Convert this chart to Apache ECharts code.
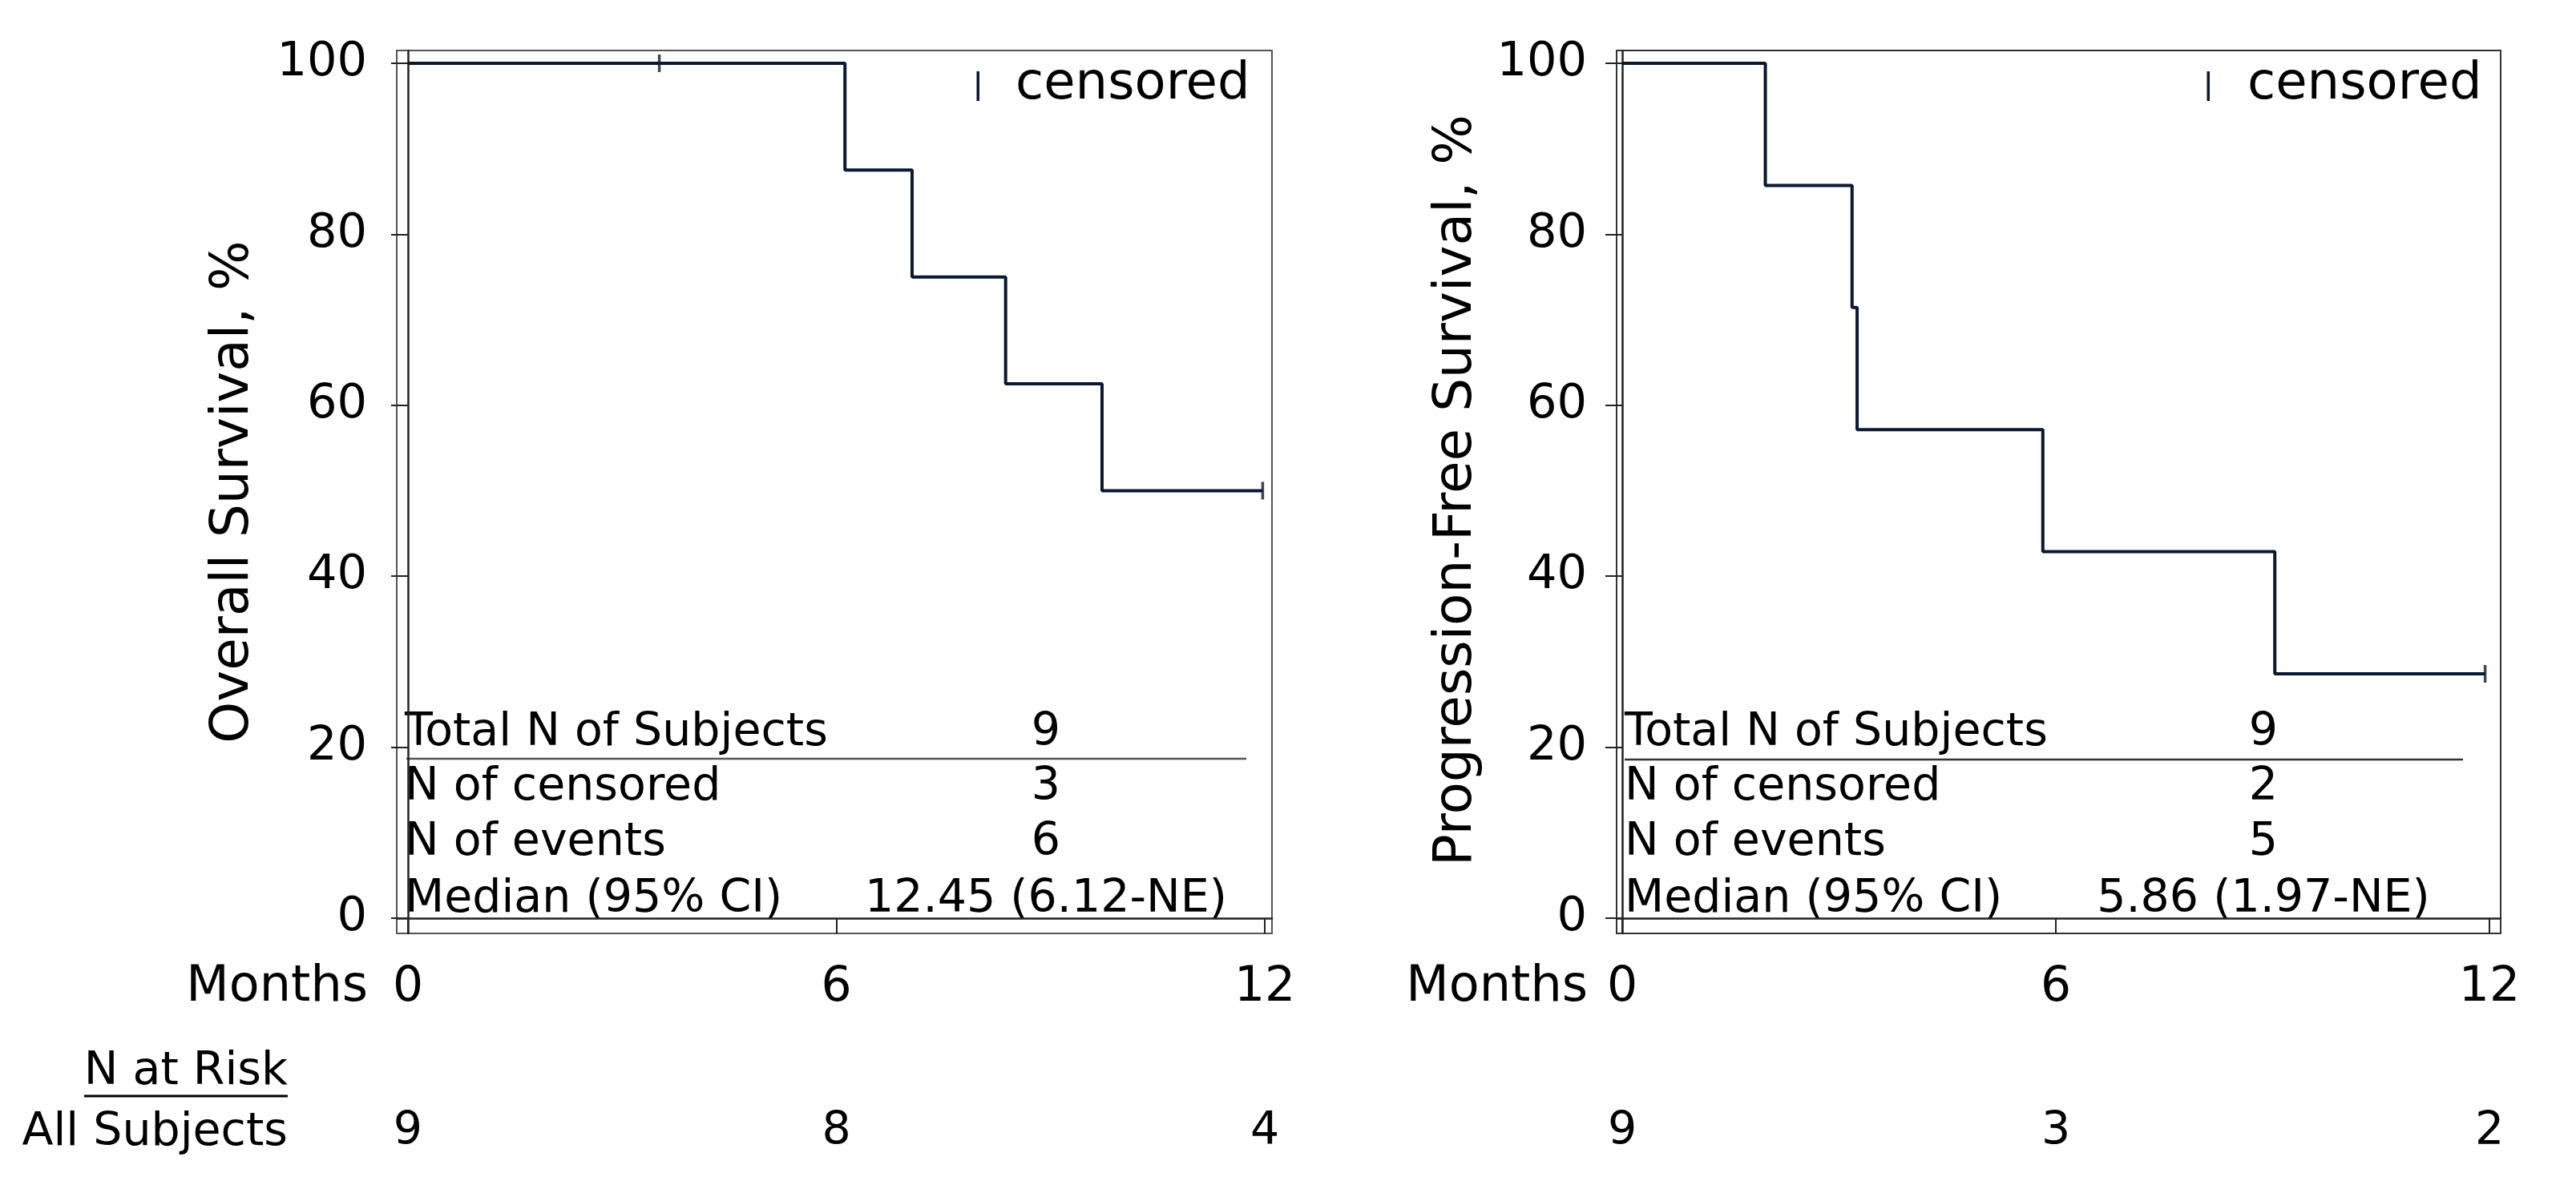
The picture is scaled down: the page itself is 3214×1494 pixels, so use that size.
<!DOCTYPE html>
<html>
<head>
<meta charset="utf-8">
<title>Kaplan-Meier curves</title>
<script src="https://cdn.jsdelivr.net/npm/echarts@6.0.0/dist/echarts.min.js"></script>
<style>
  html, body { margin: 0; padding: 0; background: #fff; }
  #chart { width: 3214px; height: 1494px; }
</style>
</head>
<body>
<div id="chart"></div>
<script>
// tick values
const xTicks = [0, 6, 12];
const yTicks = [0, 20, 40, 60, 80, 100];

// overall survival: step points [month, %] and censor marks
const osCurve = [[0, 100], [6.12, 87.5], [7.06, 75], [8.37, 62.5], [9.72, 50], [11.97, 50]];
const osCensor = [[3.52, 100], [11.97, 50]];

// progression-free survival
const pfsCurve = [[0, 100], [1.98, 85.71], [3.18, 71.43], [3.25, 57.14], [5.82, 42.86], [9.03, 28.57], [11.94, 28.57]];
const pfsCensor = [[11.94, 28.57]];

// number at risk
const riskTimes = [0, 6, 12];
const osRisk = [9, 8, 4];
const pfsRisk = [9, 3, 2];

// summary table
const tableLabels = ['Total N of Subjects', 'N of censored', 'N of events', 'Median (95% CI)'];
const osStats = ['9', '3', '6', '12.45 (6.12-NE)'];
const pfsStats = ['9', '2', '5', '5.86 (1.97-NE)'];

const FONT = 'DejaVu Sans';
const NAVY = '#0a1830';

const chart = echarts.init(document.getElementById('chart'));

function xAxisFor(grid, min, max) {
    return {
        type: 'value', gridIndex: grid, min: min, max: max,
        axisLine: { show: true, lineStyle: { color: '#222', width: 2.5 } },
        axisTick: { show: true, length: 20, customValues: xTicks, lineStyle: { color: '#222', width: 2 } },
        axisLabel: { customValues: xTicks, margin: 38, fontSize: 60, lineHeight: 60, fontFamily: FONT, color: '#000' },
        splitLine: { show: false }
    };
}

function riskAxisFor(grid, min, max, risk) {
    return {
        type: 'value', gridIndex: grid, min: min, max: max, position: 'bottom', offset: 212,
        axisLine: { show: false },
        axisTick: { show: false },
        axisLabel: {
            customValues: riskTimes, margin: 8, fontSize: 57, lineHeight: 57, fontFamily: FONT, color: '#000',
            formatter: function (v) { return String(risk[riskTimes.indexOf(v)]); }
        },
        splitLine: { show: false }
    };
}

function yAxisFor(grid) {
    return {
        type: 'value', gridIndex: grid, min: -1.8, max: 101.5,
        axisLine: { show: true, lineStyle: { color: '#222', width: 2.5 } },
        axisTick: { show: true, length: 21, customValues: yTicks, lineStyle: { color: '#222', width: 2 } },
        axisLabel: { customValues: yTicks, margin: 37, fontSize: 59, fontFamily: FONT, color: '#000' },
        splitLine: { show: false }
    };
}

function stepSeries(idx, data) {
    return {
        type: 'line', xAxisIndex: idx, yAxisIndex: idx, data: data, step: 'end',
        showSymbol: false, silent: true, animation: false,
        lineStyle: { color: NAVY, width: 4 }
    };
}

function censorSeries(idx, data) {
    return {
        name: 'censored', type: 'scatter', xAxisIndex: idx, yAxisIndex: idx, data: data,
        symbol: 'rect', symbolSize: [3.5, 22], itemStyle: { color: NAVY }, silent: true, animation: false
    };
}

// text placed in the panels
function txt(x, y, s, size, align, extra) {
    return Object.assign({
        type: 'text', x: x, y: y, silent: true,
        style: { text: s, fontSize: size, fontFamily: FONT, fill: '#000', align: align || 'left', verticalAlign: 'middle' }
    }, extra || {});
}
function hline(x1, x2, y, w, color) {
    return { type: 'line', silent: true, shape: { x1: x1, y1: y, x2: x2, y2: y }, style: { stroke: color || '#444', lineWidth: w || 2 } };
}

const rowY = [915, 983, 1052, 1123];
const graphics = [];

// panel 1
graphics.push(txt(292, 614, 'Overall Survival, %', 66, 'center', { rotation: Math.PI / 2 }));
graphics.push(txt(459, 1233, 'Months', 62, 'right'));
graphics.push({ type: 'rect', silent: true, shape: { x: 1218.5, y: 89, width: 3.5, height: 37 }, style: { fill: NAVY } });
graphics.push(txt(1267, 106, 'censored', 64, 'left'));
tableLabels.forEach(function (s, i) {
    graphics.push(txt(505, rowY[i], s, 57, 'left'));
    graphics.push(txt(1305, rowY[i], osStats[i], 57, 'center'));
});
graphics.push(hline(507, 1555, 947, 2.5, '#555'));

// panel 2
graphics.push(txt(1818, 612, 'Progression-Free Survival, %', 66, 'center', { rotation: Math.PI / 2 }));
graphics.push(txt(1981, 1233, 'Months', 62, 'right'));
graphics.push({ type: 'rect', silent: true, shape: { x: 2753.5, y: 89, width: 3.5, height: 37 }, style: { fill: NAVY } });
graphics.push(txt(2804, 106, 'censored', 64, 'left'));
tableLabels.forEach(function (s, i) {
    graphics.push(txt(2027, rowY[i], s, 57, 'left'));
    graphics.push(txt(2824, rowY[i], pfsStats[i], 57, 'center'));
});
graphics.push(hline(2027, 3073, 948, 2.5, '#333'));

// number at risk labels
graphics.push(txt(359, 1338, 'N at Risk', 57, 'right'));
graphics.push(hline(105, 359, 1368, 3, '#000'));
graphics.push(txt(359, 1414, 'All Subjects', 57, 'right'));

const option = {
    backgroundColor: '#fff',
    animation: false,
    grid: [
        { left: 495, top: 63, width: 1092, height: 1102, show: true, borderColor: '#555', borderWidth: 2, containLabel: false },
        { left: 2017, top: 63, width: 1103, height: 1102, show: true, borderColor: '#333', borderWidth: 2, containLabel: false }
    ],
    xAxis: [
        xAxisFor(0, -0.157, 12.1),
        xAxisFor(1, -0.078, 12.155),
        riskAxisFor(0, -0.157, 12.1, osRisk),
        riskAxisFor(1, -0.078, 12.155, pfsRisk)
    ],
    yAxis: [yAxisFor(0), yAxisFor(1)],
    series: [
        stepSeries(0, osCurve),
        censorSeries(0, osCensor),
        stepSeries(1, pfsCurve),
        censorSeries(1, pfsCensor)
    ],
    graphic: graphics
};

chart.setOption(option);
</script>
</body>
</html>
